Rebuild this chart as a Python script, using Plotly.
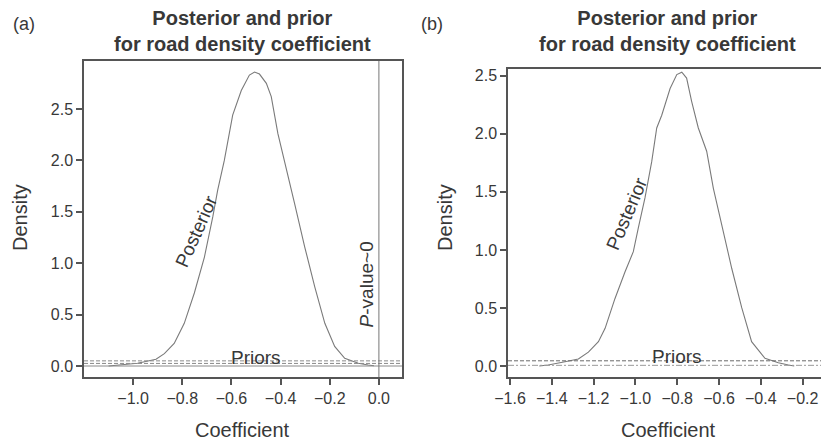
import plotly.graph_objects as go

# ---- data ----
post_a_x = [-1.10, -1.064, -0.982, -0.907, -0.873, -0.833, -0.792, -0.751, -0.710, -0.676, -0.656, -0.629,
            -0.595, -0.560, -0.527, -0.506, -0.486, -0.458, -0.438, -0.411, -0.384, -0.343, -0.302,
            -0.261, -0.220, -0.180, -0.139, -0.084, -0.044, -0.02]
post_a_y = [0.0, 0.01, 0.026, 0.065, 0.12, 0.22, 0.415, 0.71, 1.06, 1.45, 1.71, 2.0,
            2.44, 2.68, 2.83, 2.86, 2.84, 2.75, 2.62, 2.26, 2.0, 1.58, 1.16,
            0.77, 0.415, 0.19, 0.075, 0.026, 0.01, 0.002]

post_b_x = [-1.46, -1.417, -1.337, -1.273, -1.225, -1.177, -1.145, -1.098, -1.050, -1.010, -0.986, -0.954,
            -0.922, -0.898, -0.874, -0.834, -0.802, -0.778, -0.755, -0.731, -0.699, -0.659, -0.627,
            -0.587, -0.539, -0.491, -0.444, -0.380, -0.316, -0.268, -0.24]
post_b_y = [0.0, 0.009, 0.037, 0.06, 0.12, 0.21, 0.325, 0.58, 0.81, 0.985, 1.19, 1.45,
            1.76, 2.05, 2.16, 2.39, 2.51, 2.53, 2.48, 2.28, 2.05, 1.85, 1.53,
            1.22, 0.84, 0.50, 0.21, 0.066, 0.029, 0.009, 0.0]

prior_a_levels = [0.05, 0.025]
prior_b_levels = [0.045, 0.006]

xticks_a = [-1.0, -0.8, -0.6, -0.4, -0.2, 0.0]
xticks_b = [-1.6, -1.4, -1.2, -1.0, -0.8, -0.6, -0.4, -0.2]
yticks = [0.0, 0.5, 1.0, 1.5, 2.0, 2.5]

title_text = "<b>Posterior and prior<br>for road density coefficient</b>"

W, H = 821, 444
FONT = "Liberation Sans, Arial, sans-serif"
TXT = "#383838"
AX = "#555555"
CURVE = "#7a7a7a"

fig = go.Figure()

xr_a = [-1.2, 0.094]
xr_b = [-1.6096, -0.112]

# posterior curves
fig.add_trace(go.Scatter(x=post_a_x, y=post_a_y, mode="lines", line=dict(color=CURVE, width=1.1),
                         xaxis="x", yaxis="y", showlegend=False, hoverinfo="skip"))
fig.add_trace(go.Scatter(x=post_b_x, y=post_b_y, mode="lines", line=dict(color=CURVE, width=1.1),
                         xaxis="x2", yaxis="y2", showlegend=False, hoverinfo="skip"))

# prior lines (flat)
for lvl in prior_a_levels:
    fig.add_trace(go.Scatter(x=xr_a, y=[lvl, lvl], mode="lines", line=dict(color="#8a8a8a", width=1, dash="4px,2px"),
                             xaxis="x", yaxis="y", showlegend=False, hoverinfo="skip"))
fig.add_trace(go.Scatter(x=xr_a, y=[0, 0], mode="lines", line=dict(color="#8a8a8a", width=1),
                         xaxis="x", yaxis="y", showlegend=False, hoverinfo="skip"))
fig.add_trace(go.Scatter(x=xr_b, y=[prior_b_levels[0]] * 2, mode="lines", line=dict(color="#6a6a6a", width=1, dash="4px,2px"),
                         xaxis="x2", yaxis="y2", showlegend=False, hoverinfo="skip"))
fig.add_trace(go.Scatter(x=xr_b, y=[prior_b_levels[1]] * 2, mode="lines", line=dict(color="#9a9a9a", width=1, dash="6px,2px,2px,2px"),
                         xaxis="x2", yaxis="y2", showlegend=False, hoverinfo="skip"))

# vertical line at 0 in (a)
fig.add_trace(go.Scatter(x=[0, 0], y=[-0.107, 2.967], mode="lines", line=dict(color="#777777", width=1),
                         xaxis="x", yaxis="y", showlegend=False, hoverinfo="skip"))

axis_common = dict(showgrid=False, zeroline=False, showline=True, linecolor=AX, linewidth=1.5,
                   ticks="outside", ticklen=6, tickcolor=AX, tickwidth=1.5, automargin=False,
                   tickfont=dict(family=FONT, size=16, color=TXT))

fig.update_layout(
    width=W, height=H,
    margin=dict(l=0, r=0, t=0, b=0, pad=0, autoexpand=False),
    paper_bgcolor="white", plot_bgcolor="white",
    xaxis=dict(domain=[84 / W, 402 / W], range=xr_a, tickvals=xticks_a,
               ticktext=[f"{v:.1f}".replace("-", "\u2212") for v in xticks_a],
               mirror=True, anchor="y", **axis_common),
    yaxis=dict(domain=[1 - 377 / H, 1 - 61 / H], range=[-0.107, 2.967], tickvals=yticks,
               ticktext=[f"{v:.1f}" for v in yticks], mirror=True, anchor="x", **axis_common),
    xaxis2=dict(domain=[508 / W, 1.0], range=xr_b, tickvals=xticks_b,
                ticktext=[f"{v:.1f}".replace("-", "\u2212") for v in xticks_b],
                mirror=True, anchor="y2", **axis_common),
    yaxis2=dict(domain=[1 - 377.3 / H, 1 - 69 / H], range=[-0.097, 2.558], tickvals=yticks,
                ticktext=[f"{v:.1f}" for v in yticks], mirror=False, anchor="x2", **axis_common),
)

def pann(x, y, text, size, **kw):
    fig.add_annotation(xref="paper", yref="paper", x=x / W, y=1 - y / H, text=text, showarrow=False,
                       font=dict(family=FONT, size=size, color=TXT), xanchor="center", yanchor="middle", **kw)

# panel labels & titles
pann(24, 24, "(a)", 18)
pann(432, 24, "(b)", 18)
pann(243, 31, title_text, 20)
pann(667, 31, title_text, 20)

# axis titles
pann(20, 218, "Density", 20, textangle=-90)
pann(445, 218, "Density", 20, textangle=-90)
pann(243, 430, "Coefficient", 20)
pann(668, 430, "Coefficient", 20)

# in-plot labels
fig.add_annotation(xref="x", yref="y", x=-0.744, y=1.31, text="Posterior", showarrow=False, textangle=-66,
                   font=dict(family=FONT, size=19, color=TXT))
fig.add_annotation(xref="x", yref="y", x=-0.50, y=0.08, text="Priors", showarrow=False,
                   font=dict(family=FONT, size=19, color=TXT))
fig.add_annotation(xref="x", yref="y", x=-0.050, y=0.79, text="<i>P</i>-value~0", showarrow=False, textangle=-90,
                   font=dict(family=FONT, size=19, color=TXT))
fig.add_annotation(xref="x2", yref="y2", x=-1.042, y=1.316, text="Posterior", showarrow=False, textangle=-67,
                   font=dict(family=FONT, size=19, color=TXT))
fig.add_annotation(xref="x2", yref="y2", x=-0.80, y=0.08, text="Priors", showarrow=False,
                   font=dict(family=FONT, size=19, color=TXT))

fig.write_html("out.html", config={"displayModeBar": False},
               post_script="document.body.style.margin='0px';document.body.style.overflow='hidden';")
